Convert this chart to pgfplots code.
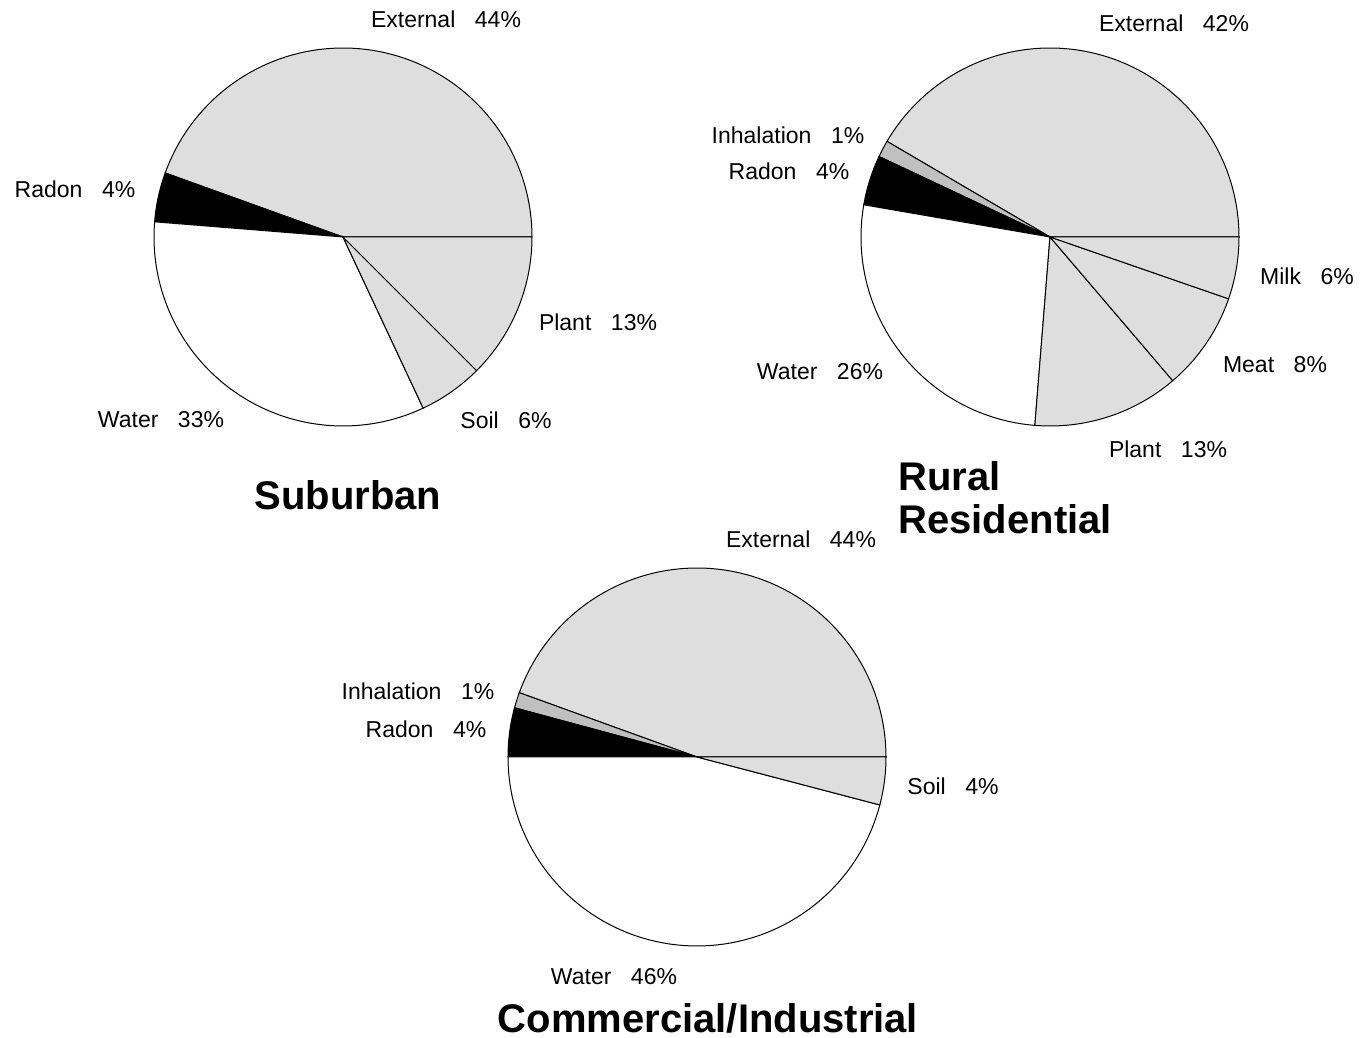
\documentclass[border=0pt]{standalone}
\usepackage{pgfplots}
\pgfplotsset{compat=1.18}
\usepgfplotslibrary{polar}
\usepackage{fontspec}
\setmainfont{Liberation Sans}
\definecolor{lg}{HTML}{DEDEDE}
\definecolor{mg}{HTML}{C0C0C0}
\pgfplotsset{pie/.style={scale only axis, width=189pt, height=189pt,
  xmin=0, xmax=360, ymin=0, ymax=1, hide axis, anchor=center, clip=false}}
% slice: colour, start angle, end angle (degrees, counterclockwise from 3 o'clock)
\newcommand\slice[3]{\addplot[fill=#1, draw=black, line width=0.5pt, domain=#2:#3, samples=80] {1} -- (0,0) -- cycle;}
\newcommand\lab[3]{\node[font=\fontsize{11.5}{13}\selectfont, inner sep=0pt, anchor=center] at (#1,#2) {#3};}
\newcommand\ttl[3]{\node[font=\fontsize{20}{22}\selectfont\bfseries, inner sep=0pt, anchor=#3] at (#1,#2) {#2};}
\begin{document}
\begin{tikzpicture}[x=0.5pt,y=0.5pt]
\path[use as bounding box] (0,0) rectangle (1366,1038);
% Suburban
\begin{polaraxis}[pie, at={(171.5pt,400.5pt)}]
\slice{lg}{0}{160.2}
\slice{black}{160.2}{175.4}
\slice{white}{175.4}{295.1}
\slice{lg}{295.1}{315}
\slice{lg}{315}{360}
\end{polaraxis}
% Rural Residential
\begin{polaraxis}[pie, at={(525pt,400.5pt)}]
\slice{lg}{0}{149.6}
\slice{mg}{149.6}{154.8}
\slice{black}{154.8}{170.2}
\slice{white}{170.2}{265.4}
\slice{lg}{265.4}{310.5}
\slice{lg}{310.5}{340.9}
\slice{lg}{340.9}{360}
\end{polaraxis}
% Commercial/Industrial
\begin{polaraxis}[pie, at={(348.5pt,140.5pt)}]
\slice{lg}{0}{160.1}
\slice{mg}{160.1}{164.9}
\slice{black}{164.9}{180}
\slice{white}{180}{345.3}
\slice{lg}{345.3}{360}
\end{polaraxis}
% labels (pixel coordinates, y measured from bottom)
\lab{446}{1019}{External\hspace{0.85em}44\%}
\lab{75}{849}{Radon\hspace{0.85em}4\%}
\lab{598}{716}{Plant\hspace{0.85em}13\%}
\lab{506}{618}{Soil\hspace{0.85em}6\%}
\lab{161}{618}{Water\hspace{0.85em}33\%}
\lab{1174}{1015}{External\hspace{0.85em}42\%}
\lab{788}{903}{Inhalation\hspace{0.85em}1\%}
\lab{789}{867}{Radon\hspace{0.85em}4\%}
\lab{1307}{762}{Milk\hspace{0.85em}6\%}
\lab{1275}{673}{Meat\hspace{0.85em}8\%}
\lab{820}{666}{Water\hspace{0.85em}26\%}
\lab{1168}{589}{Plant\hspace{0.85em}13\%}
\lab{801}{499}{External\hspace{0.85em}44\%}
\lab{418}{347}{Inhalation\hspace{0.85em}1\%}
\lab{426}{309}{Radon\hspace{0.85em}4\%}
\lab{953}{252}{Soil\hspace{0.85em}4\%}
\lab{614}{61}{Water\hspace{0.85em}46\%}
\node[font=\fontsize{20}{22}\selectfont\bfseries, inner sep=0pt, anchor=center] at (348,543) {Suburban};
\node[font=\fontsize{20}{22}\selectfont\bfseries, inner sep=0pt, anchor=west] at (898,562) {Rural};
\node[font=\fontsize{20}{22}\selectfont\bfseries, inner sep=0pt, anchor=west] at (898,519) {Residential};
\node[font=\fontsize{20}{22}\selectfont\bfseries, inner sep=0pt, anchor=center] at (708,20) {Commercial/Industrial};
\end{tikzpicture}
\end{document}
